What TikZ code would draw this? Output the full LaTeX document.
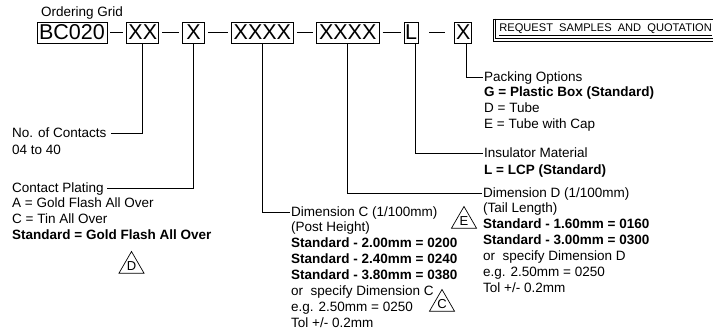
\documentclass[tikz,border=0pt]{standalone}
\usepackage{fontspec}
\setmainfont{Liberation Sans}
\usetikzlibrary{positioning, shapes.geometric}

\begin{document}
\begin{tikzpicture}[
  x=1pt, y=-1pt,
  node distance=23pt,
  cell/.style={draw, line width=0.8pt, inner sep=0pt, minimum height=21pt, font=\fontsize{21.5}{24}\selectfont},
  joint/.style={line width=1.8pt, shorten <=3pt, shorten >=3pt},
  lead/.style={line width=0.8pt},
  head/.style={anchor=west, inner sep=0pt, text height=9.7pt, text depth=0pt, font=\fontsize{13.5}{16}\selectfont},
  body/.style={anchor=north west, inner sep=0pt, align=left, font=\fontsize{13.5}{16}\selectfont, execute at begin node=\strut},
  rev/.style={draw, line width=0.7pt, regular polygon, regular polygon sides=3, minimum size=29pt, inner sep=0pt, font=\fontsize{13}{13}\selectfont}
]
\useasboundingbox (0,0) rectangle (713,334);

\node[anchor=base west, inner sep=0pt, font=\fontsize{13.5}{16}\selectfont] (title) at (41,17) {Ordering Grid};

\node[cell, minimum width=70pt] (bc) at (72,32.5) {BC020};
\node[cell, minimum width=32pt, right=19pt of bc] (xx) {XX};
\node[cell, minimum width=22pt, right=of xx] (pl) {X};
\node[cell, minimum width=62pt, right=26pt of pl] (dc) {XXXX};
\node[cell, minimum width=63pt, right=22pt of dc] (dd) {XXXX};
\node[cell, minimum width=14pt, right=24pt of dd] (ins) {L};
\node[cell, minimum width=17pt, right=36pt of ins] (pk) {X};

\draw[joint] (bc) -- (xx);
\draw[joint] (xx) -- (pl);
\draw[joint] (pl) -- (dc);
\draw[joint] (dc) -- (dd);
\draw[joint] (dd) -- (ins);
\draw[joint, shorten <=11pt, shorten >=9pt] (ins) -- (pk);

\node[draw, line width=0.8pt, anchor=west, minimum height=22pt, inner xsep=6pt, font=\fontsize{11.1}{12}\selectfont] (req) at (493,30) {\underline{REQUEST\ \ SAMPLES\ \ AND\ \ QUOTATION}};
\draw[lead] ([xshift=2.5pt]req.north west) |- ([yshift=2.5pt]req.south east);

\node[head] (cnt) at (12,133) {No. of Contacts};
\node[body] at ([yshift=-4.8pt]cnt.base west) {04 to 40};
\draw[lead] (xx.south) |- ([xshift=4pt]cnt.east);

\node[head] (plat) at (12,188) {Contact Plating};
\node[body] at ([yshift=-4.8pt]plat.base west) {A = Gold Flash All Over\\C = Tin All Over\\\textbf{Standard = Gold Flash All Over}};
\draw[lead] (pl.south) |- ([xshift=3pt]plat.east);

\node[head] (postc) at (291,212) {Dimension C (1/100mm)};
\node[body] at ([yshift=-4.8pt]postc.base west) {(Post Height)\\\textbf{Standard - 2.00mm = 0200}\\\textbf{Standard - 2.40mm = 0240}\\\textbf{Standard - 3.80mm = 0380}\\or\ \ specify Dimension C\\e.g. 2.50mm = 0250\\Tol +/- 0.2mm};
\draw[lead] (dc.south) |- ([xshift=-1pt]postc.west);

\node[head] (taild) at (483,193) {Dimension D (1/100mm)};
\node[body] at ([yshift=-4.8pt]taild.base west) {(Tail Length)\\\textbf{Standard - 1.60mm = 0160}\\\textbf{Standard - 3.00mm = 0300}\\or\ \ specify Dimension D\\e.g. 2.50mm = 0250\\Tol +/- 0.2mm};
\draw[lead] (dd.south) |- ([xshift=-1pt]taild.west);

\node[head] (mat) at (484,153) {Insulator Material};
\node[body] at ([yshift=-4.8pt]mat.base west) {\textbf{L = LCP (Standard)}};
\draw[lead] ([xshift=4pt]ins.south) |- ([xshift=-1pt]mat.west);

\node[head] (pack) at (484,77) {Packing Options};
\node[body] at ([yshift=-4.8pt]pack.base west) {\textbf{G = Plastic Box (Standard)}\\D = Tube\\E = Tube with Cap};
\draw[lead] ([xshift=3pt]pk.south) |- ([xshift=-1pt]pack.west);

\node[rev] (rev-d) at (131.5,266) {D};
\node[rev] (rev-e) at (464,221) {E};
\node[rev] (rev-c) at (442,304) {C};
\end{tikzpicture}
\end{document}
